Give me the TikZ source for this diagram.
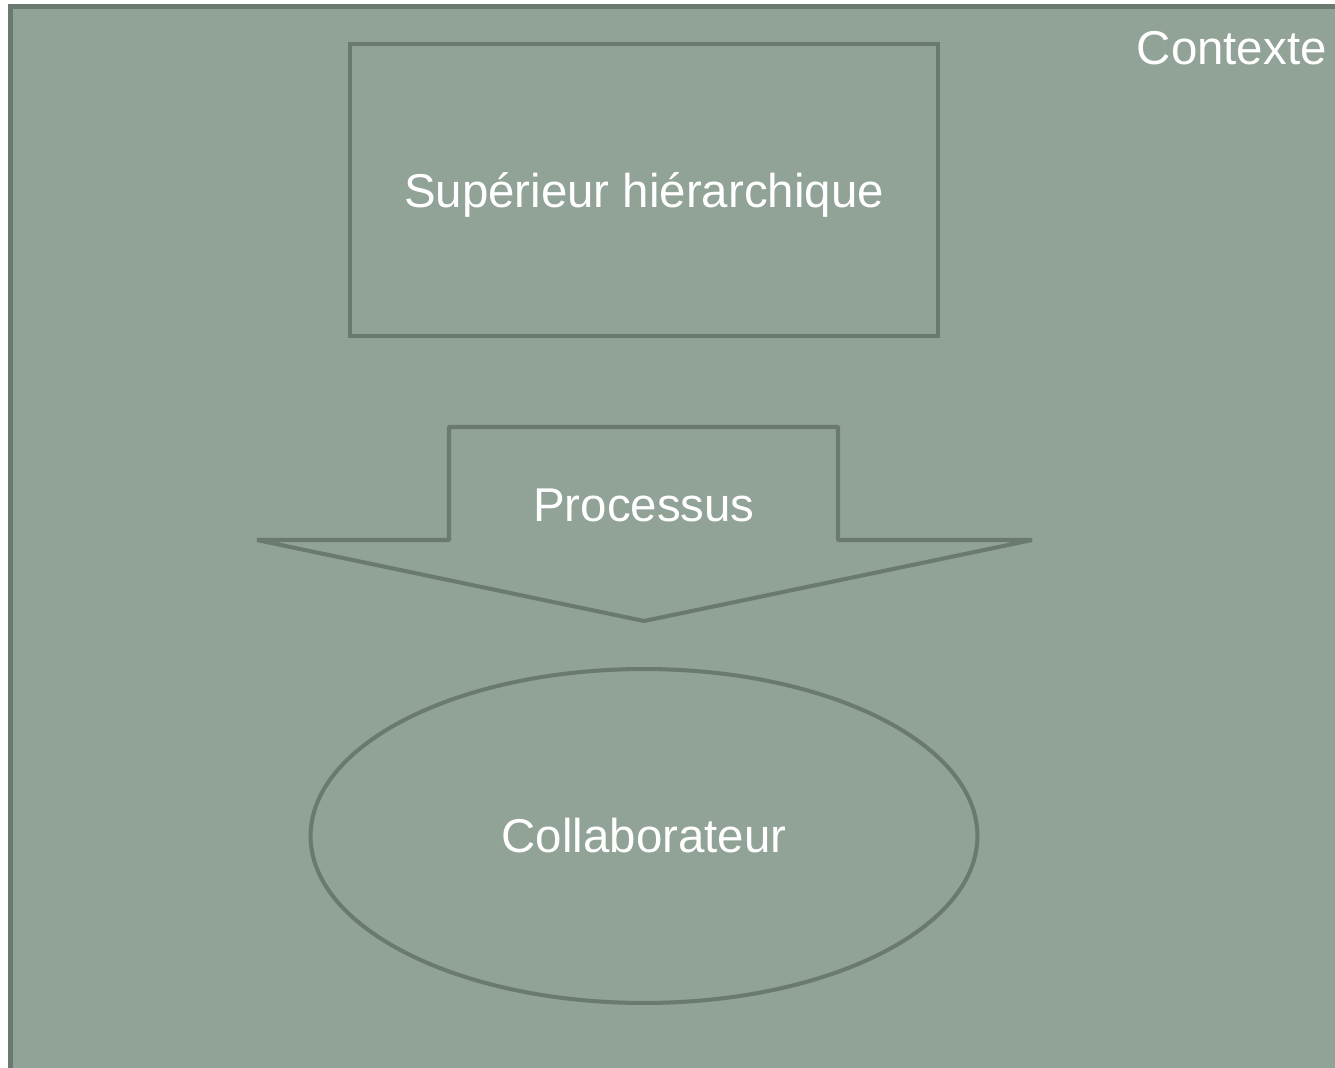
\documentclass[tikz,border=0pt]{standalone}
\usepackage{fontspec}
\setmainfont{Liberation Sans}
\usetikzlibrary{shapes.geometric}
\definecolor{fond}{RGB}{145,162,150}
\definecolor{trait}{RGB}{107,122,110}

\begin{document}
\begin{tikzpicture}[
  x=0.02cm, y=-0.02cm,
  texte/.style={font=\fontsize{27}{32}\selectfont, text=white},
  cadre/.style={draw=trait, line width=2.3pt, texte, text depth=0pt, minimum width=11.76cm, minimum height=5.84cm},
  bulle/.style={ellipse, draw=trait, line width=2.3pt, texte, minimum width=13.34cm, minimum height=6.68cm},
  fleche/.style={draw=trait, line width=2.3pt, line join=bevel}
]
\clip (0,0) rectangle (1335,1068);
\fill[white] (0,0) rectangle (1335,1068);
\draw[fill=fond, draw=trait, line width=2.8pt] (10.5,6.5) rectangle (1360,1090);
\node[texte, anchor=base east, inner sep=0pt] (contexte) at (1327,65) {Contexte};
\node[cadre] (superieur) at (644,190) {Supérieur hiérarchique};
% fleche du processus
\draw[fleche] (449,427) -- (838,427) -- (838,540) -- (1032,540) -- (644,621)
  -- (257,540) -- (449,540) -- cycle;
\node[texte] (processus) at (644,505) {Processus};
\node[bulle] (collaborateur) at (644,836) {Collaborateur};
\end{tikzpicture}
\end{document}
